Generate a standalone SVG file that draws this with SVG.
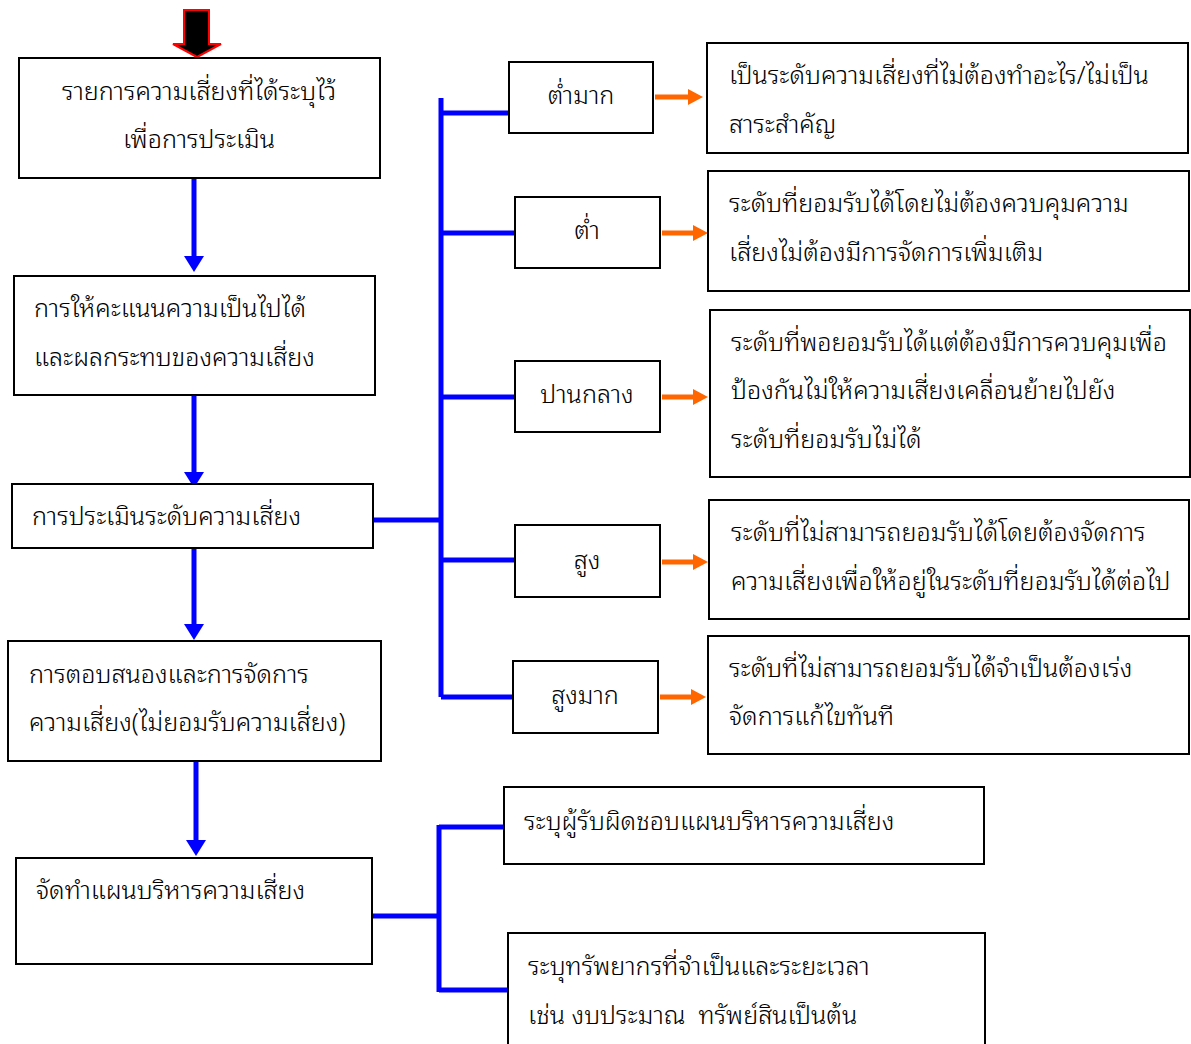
<svg xmlns="http://www.w3.org/2000/svg" width="1191" height="1044" viewBox="0 0 1191 1044">
<defs>
<style>
.box{fill:#fff;stroke:#000;stroke-width:2}
.t{font-family:"Noto Sans Thai Looped","Noto Serif Thai","Noto Sans Thai","Noto Sans","DejaVu Sans",sans-serif;font-size:25.2px;font-weight:300;fill:#000}
.c{text-anchor:middle}
.blue{stroke:#0000ff;stroke-width:5;fill:none}
.org{stroke:#ff6600;stroke-width:5;fill:none}
</style>
</defs>
<rect width="1191" height="1044" fill="#fff"/>
<g id="start-arrow"><path d="M184,10 L209,10 L209,44 L221,44 L197,57 L173,44 L184,44 Z" fill="#000" stroke="#ff0000" stroke-width="2"/></g>
<g id="connectors">
<path class="blue" d="M194,178 L194,258"/><path d="M184,256 L204,256 L194,272 Z" fill="#0000ff"/>
<path class="blue" d="M194,395 L194,474"/><path d="M184,472 L204,472 L194,488 Z" fill="#0000ff"/>
<path class="blue" d="M194,548 L194,626"/><path d="M184,624 L204,624 L194,640 Z" fill="#0000ff"/>
<path class="blue" d="M196,761 L196,842"/><path d="M186,840 L206,840 L196,856 Z" fill="#0000ff"/>
<path class="blue" d="M373,520 L441,520 M441,98 L441,697 M441,113 L509,113 M441,233 L515,233 M441,397 L515,397 M441,560 L515,560 M441,697 L513,697"/>
<path class="blue" d="M372,916 L439,916 M439,825 L439,992 M439,827 L504,827 M439,990 L508,990"/>
<path class="org" d="M655,97 L690,97"/><path d="M688,89 L703,97 L688,105 Z" fill="#ff6600"/>
<path class="org" d="M662,233 L695,233"/><path d="M693,225 L708,233 L693,241 Z" fill="#ff6600"/>
<path class="org" d="M662,397 L695,397"/><path d="M693,389 L708,397 L693,405 Z" fill="#ff6600"/>
<path class="org" d="M662,562 L695,562"/><path d="M693,554 L708,562 L693,570 Z" fill="#ff6600"/>
<path class="org" d="M660,697 L693,697"/><path d="M691,689 L706,697 L691,705 Z" fill="#ff6600"/>
</g>
<g id="n1"><rect class="box" x="19" y="58" width="361" height="120"/><text class="t c" x="199" y="100">รายการความเสี่ยงที่ได้ระบุไว้</text><text class="t c" x="199" y="148">เพื่อการประเมิน</text></g>
<g id="n2"><rect class="box" x="14" y="276" width="361" height="119"/><text class="t" x="34" y="317">การให้คะแนนความเป็นไปได้</text><text class="t" x="34" y="366">และผลกระทบของความเสี่ยง</text></g>
<g id="n3"><rect class="box" x="12" y="484" width="361" height="64"/><text class="t" x="32" y="525">การประเมินระดับความเสี่ยง</text></g>
<g id="n4"><rect class="box" x="8" y="641" width="373" height="120"/><text class="t" x="29" y="683">การตอบสนองและการจัดการ</text><text class="t" x="29" y="731">ความเสี่ยง(ไม่ยอมรับความเสี่ยง)</text></g>
<g id="n5"><rect class="box" x="16" y="858" width="356" height="106"/><text class="t" x="36" y="899">จัดทำแผนบริหารความเสี่ยง</text></g>
<g id="m1"><rect class="box" x="509" y="62" width="144" height="71"/><text class="t c" x="581" y="104">ต่ำมาก</text></g>
<g id="m2"><rect class="box" x="515" y="197" width="145" height="71"/><text class="t c" x="587" y="239">ต่ำ</text></g>
<g id="m3"><rect class="box" x="515" y="361" width="145" height="71"/><text class="t c" x="587" y="403">ปานกลาง</text></g>
<g id="m4"><rect class="box" x="515" y="525" width="145" height="72"/><text class="t c" x="587" y="569">สูง</text></g>
<g id="m5"><rect class="box" x="513" y="661" width="145" height="72"/><text class="t c" x="585" y="704">สูงมาก</text></g>
<g id="r1"><rect class="box" x="707" y="43" width="481" height="110"/><text class="t" x="729" y="84">เป็นระดับความเสี่ยงที่ไม่ต้องทำอะไร/ไม่เป็น</text><text class="t" x="729" y="133">สาระสำคัญ</text></g>
<g id="r2"><rect class="box" x="708" y="171" width="481" height="120"/><text class="t" x="729" y="212">ระดับที่ยอมรับได้โดยไม่ต้องควบคุมความ</text><text class="t" x="729" y="261">เสี่ยงไม่ต้องมีการจัดการเพิ่มเติม</text></g>
<g id="r3"><rect class="box" x="710" y="310" width="480" height="167"/><text class="t" x="731" y="351">ระดับที่พอยอมรับได้แต่ต้องมีการควบคุมเพื่อ</text><text class="t" x="731" y="399">ป้องกันไม่ให้ความเสี่ยงเคลื่อนย้ายไปยัง</text><text class="t" x="731" y="448">ระดับที่ยอมรับไม่ได้</text></g>
<g id="r4"><rect class="box" x="709" y="500" width="480" height="119"/><text class="t" x="731" y="541">ระดับที่ไม่สามารถยอมรับได้โดยต้องจัดการ</text><text class="t" x="731" y="590">ความเสี่ยงเพื่อให้อยู่ในระดับที่ยอมรับได้ต่อไป</text></g>
<g id="r5"><rect class="box" x="708" y="636" width="481" height="118"/><text class="t" x="729" y="677">ระดับที่ไม่สามารถยอมรับได้จำเป็นต้องเร่ง</text><text class="t" x="729" y="725">จัดการแก้ไขทันที</text></g>
<g id="b1"><rect class="box" x="504" y="787" width="480" height="77"/><text class="t" x="524" y="830">ระบุผู้รับผิดชอบแผนบริหารความเสี่ยง</text></g>
<g id="b2"><rect class="box" x="508" y="933" width="477" height="115"/><text class="t" x="528" y="975">ระบุทรัพยากรที่จำเป็นและระยะเวลา</text><text class="t" x="528" y="1024" xml:space="preserve">เช่น งบประมาณ  ทรัพย์สินเป็นต้น</text></g>
</svg>
